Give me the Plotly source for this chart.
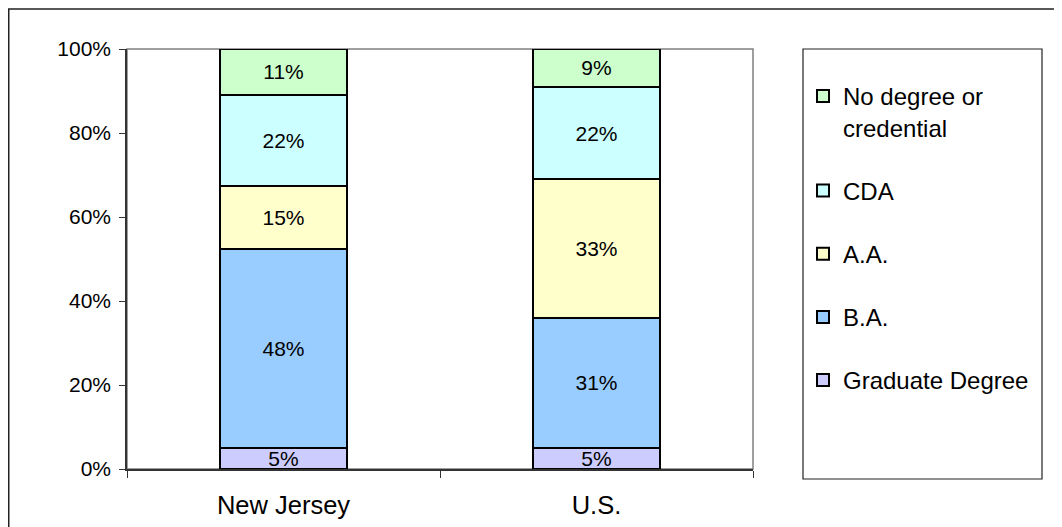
import plotly.graph_objects as go

categories = ["New Jersey", "U.S."]
series_names = ["Graduate Degree", "B.A.", "A.A.", "CDA", "No degree or<br>credential"]
values = {
    "Graduate Degree": [5, 5],
    "B.A.": [48, 31],
    "A.A.": [15, 33],
    "CDA": [22, 22],
    "No degree or<br>credential": [11, 9],
}
colors = {
    "Graduate Degree": "#CCCCFF",
    "B.A.": "#99CCFF",
    "A.A.": "#FFFFCC",
    "CDA": "#CCFFFF",
    "No degree or<br>credential": "#CCFFCC",
}
y_ticks = [0, 20, 40, 60, 80, 100]

FONT = "Liberation Sans, Arial, sans-serif"

fig = go.Figure()
n = len(series_names)
for i, name in enumerate(series_names):
    vals = values[name]
    fig.add_trace(go.Bar(
        x=categories, y=vals, name=name,
        legendgroup=f"g{i}", legendrank=n - i,
        width=0.405,
        marker=dict(color=colors[name], line=dict(color="black", width=2)),
        text=[f"{v}%" for v in vals],
        textposition="inside", insidetextanchor="middle", textangle=0,
        constraintext="none",
        textfont=dict(family=FONT, size=21, color="black"),
        hoverinfo="skip",
    ))

# page body has an 8px margin; work in figure coordinates
W, H = 1054, 519
L, R, T, B = 119, 745, 41, 461
pw, ph = R - L, B - T

def px(x):
    return (x - L) / pw

def py(y):
    return (B - y) / ph

shapes = [
    dict(type="rect", xref="paper", yref="paper", x0=0, x1=1, y0=0, y1=1,
         line=dict(color="#808080", width=1.5), layer="below"),
    dict(type="rect", xref="paper", yref="paper", x0=px(0.75), x1=px(1100), y0=py(560), y1=py(1),
         line=dict(color="#222222", width=1.5), layer="below"),
    dict(type="rect", xref="paper", yref="paper", x0=px(795), x1=px(1034), y0=py(471), y1=py(41),
         line=dict(color="#222222", width=1.2), layer="below"),
]

fig.update_layout(
    width=W, height=H,
    margin=dict(l=L, r=W - R, t=T, b=H - B, pad=0, autoexpand=False),
    paper_bgcolor="white", plot_bgcolor="white",
    barmode="stack", barnorm="percent",
    font=dict(family=FONT, size=20, color="black"),
    showlegend=True,
    legend=dict(
        x=px(795), y=py(66), xanchor="left", yanchor="top",
        traceorder="grouped", tracegroupgap=29,
        valign="top",
        font=dict(family=FONT, size=24, color="black"),
        bgcolor="rgba(0,0,0,0)", borderwidth=0,
    ),
    xaxis=dict(
        type="category", range=[-0.5, 1.5], automargin=False,
        showline=True, linecolor="#333333", linewidth=1.5,
        ticks="outside", tickson="boundaries", ticklen=7, tickcolor="#333333",
        tickfont=dict(family=FONT, size=25.5, color="black"),
        ticklabelstandoff=13,
        showgrid=False, zeroline=False,
    ),
    yaxis=dict(
        range=[0, 100], tickvals=y_ticks, ticktext=[f"{v}%" for v in y_ticks],
        automargin=False,
        showline=True, linecolor="#333333", linewidth=1.5,
        ticks="outside", ticklen=6, tickcolor="#333333",
        tickfont=dict(family=FONT, size=21, color="black"),
        ticklabelstandoff=4,
        showgrid=False, zeroline=False,
    ),
    shapes=shapes,
)

fig.write_html("out.html")
